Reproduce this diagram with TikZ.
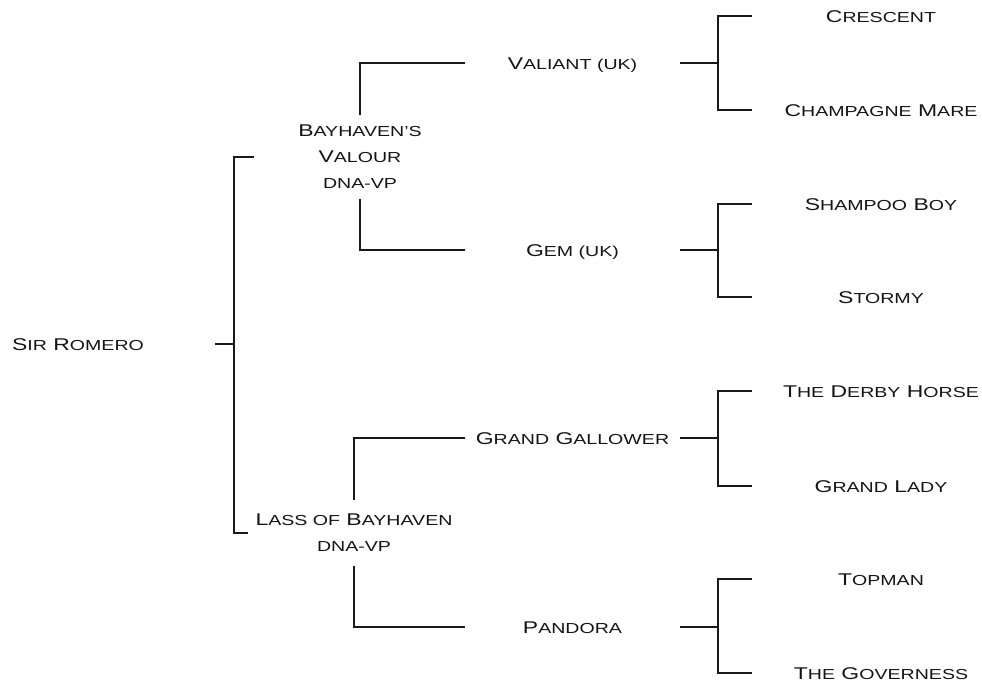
\documentclass[tikz,border=0pt]{standalone}
\usepackage{fontspec}
\setmainfont[FakeStretch=1.35]{Liberation Sans}
\newcommand\sm[1]{{\fontsize{14.5}{26}\selectfont #1}}
\begin{document}
\begin{tikzpicture}[x=1pt,y=-1pt,
  every node/.style={font=\fontsize{17}{26}\selectfont, text=black!92, align=center, inner sep=0pt},
  single/.style={text height=12.2pt, text depth=0pt},
  g0/.style={single, minimum width=274pt},
  g1/.style={minimum width=212pt, inner ysep=10pt},
  g2/.style={single, minimum width=215pt},
  g3/.style={single, minimum width=258pt},
  link/.style={line width=1.2pt, black!90}]
\useasboundingbox (0,0) rectangle (982,682);
\node[g0] (sr) at (78,344) {S\sm{IR} R\sm{OMERO}};
\node[g1] (bv) at (360,157) {B\sm{AYHAVEN'S}\\V\sm{ALOUR}\\\sm{DNA-VP}};
\node[g1, inner ysep=14pt] (lb) at (354,533) {L\sm{ASS OF} B\sm{AYHAVEN}\\\sm{DNA-VP}};
\node[g2] (val) at (572.5,63) {V\sm{ALIANT (UK)}};
\node[g2] (gem) at (572.5,250) {G\sm{EM (UK)}};
\node[g2] (gg) at (572.5,438) {G\sm{RAND} G\sm{ALLOWER}};
\node[g2] (pan) at (572.5,627) {P\sm{ANDORA}};
\node[g3] (cr) at (881,16) {C\sm{RESCENT}};
\node[g3] (cm) at (881,110) {C\sm{HAMPAGNE} M\sm{ARE}};
\node[g3] (sb) at (881,204) {S\sm{HAMPOO} B\sm{OY}};
\node[g3] (st) at (881,297) {S\sm{TORMY}};
\node[g3] (dh) at (881,391) {T\sm{HE} D\sm{ERBY} H\sm{ORSE}};
\node[g3] (gl) at (881,486) {G\sm{RAND} L\sm{ADY}};
\node[g3] (tp) at (881,579) {T\sm{OPMAN}};
\node[g3] (gv) at (881,673) {T\sm{HE} G\sm{OVERNESS}};
\coordinate (j0) at (234,344);
\coordinate (jv) at (718,63);
\coordinate (jg) at (718,250);
\coordinate (jgg) at (718,438);
\coordinate (jp) at (718,627);
\draw[link] (sr.east) -- (j0);
\draw[link] (bv.west) -| (j0) |- (lb.west);
\draw[link] (val.west) -| (bv.north);
\draw[link] (gem.west) -| (bv.south);
\draw[link] (gg.west) -| (lb.north);
\draw[link] (pan.west) -| (lb.south);
\draw[link] (val.east) -- (jv);
\draw[link] (cr.west) -| (jv) |- (cm.west);
\draw[link] (gem.east) -- (jg);
\draw[link] (sb.west) -| (jg) |- (st.west);
\draw[link] (gg.east) -- (jgg);
\draw[link] (dh.west) -| (jgg) |- (gl.west);
\draw[link] (pan.east) -- (jp);
\draw[link] (tp.west) -| (jp) |- (gv.west);
\end{tikzpicture}
\end{document}
